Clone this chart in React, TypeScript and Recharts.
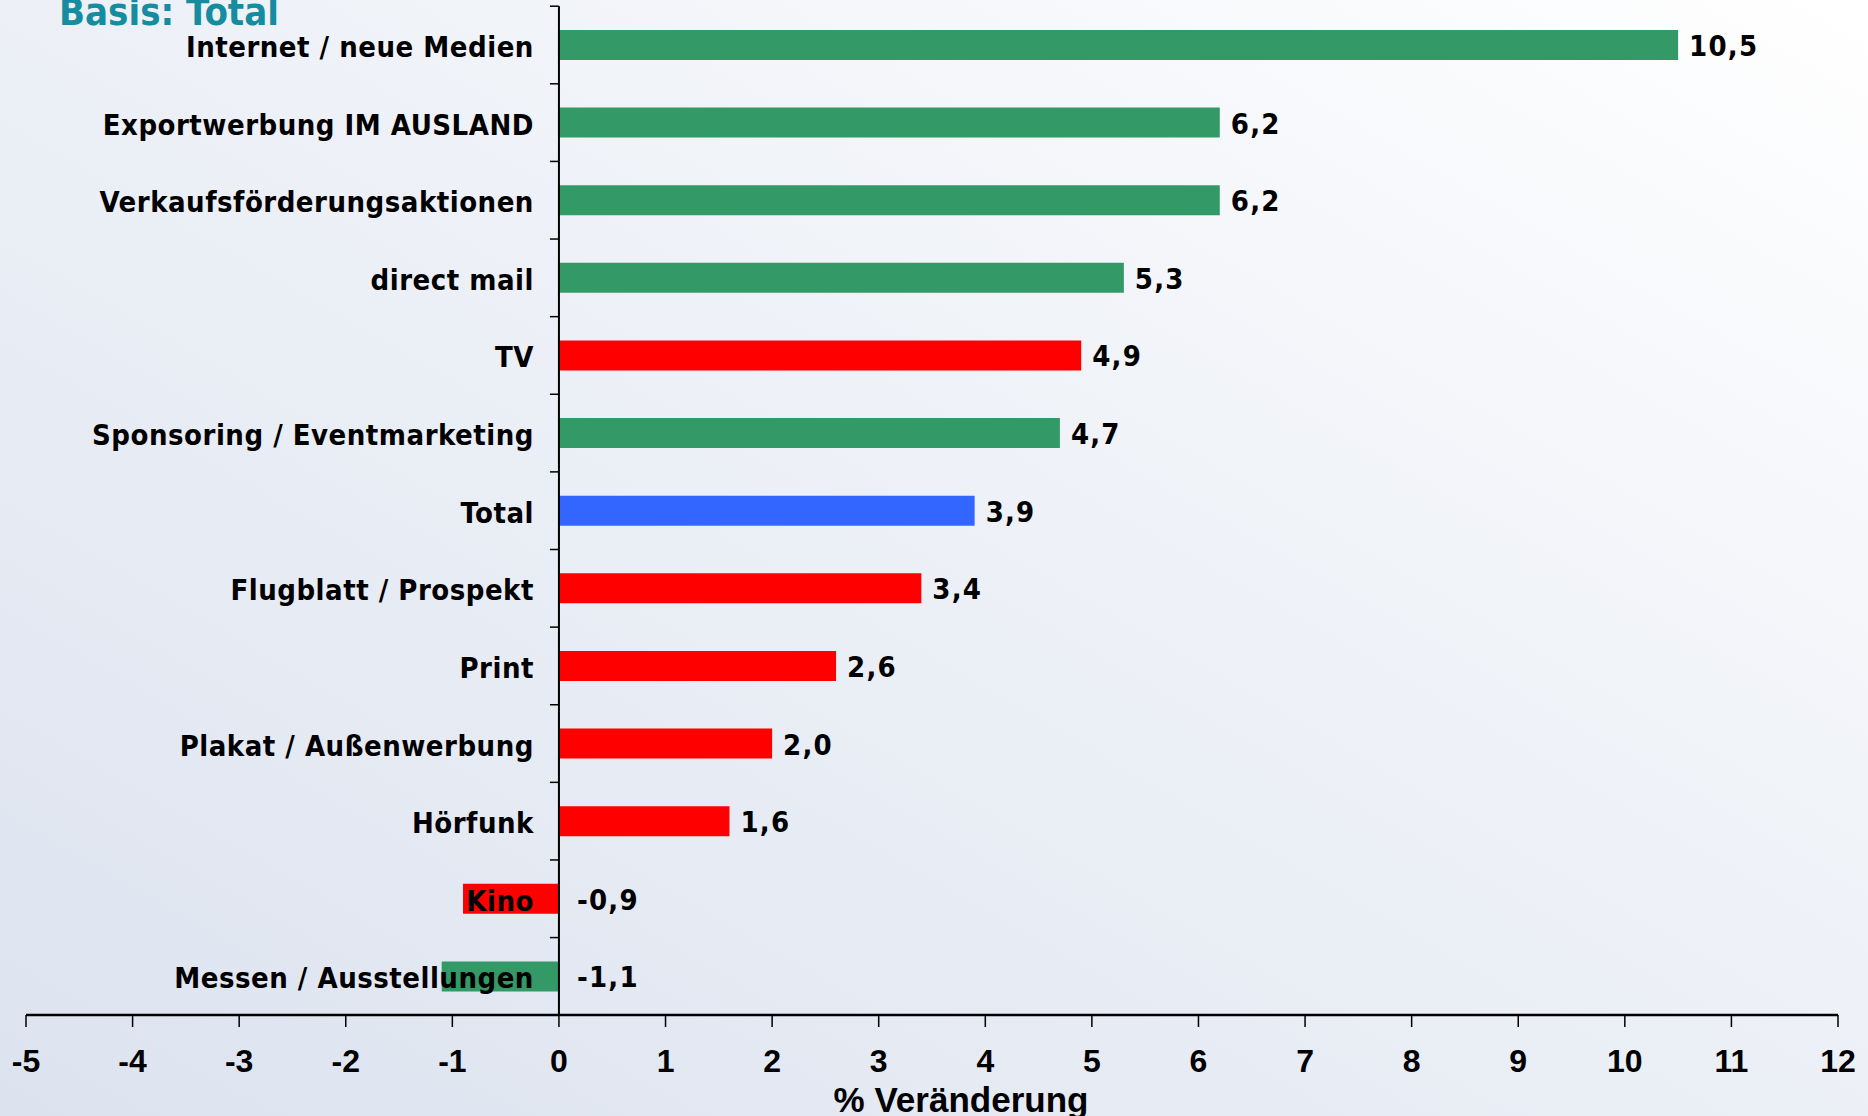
import { BarChart, Bar, XAxis, YAxis, Cell, LabelList, ReferenceLine } from 'recharts';

const CATEGORIES = [
  'Internet / neue Medien',
  'Exportwerbung IM AUSLAND',
  'Verkaufsförderungsaktionen',
  'direct mail',
  'TV',
  'Sponsoring / Eventmarketing',
  'Total',
  'Flugblatt / Prospekt',
  'Print',
  'Plakat / Außenwerbung',
  'Hörfunk',
  'Kino',
  'Messen / Ausstellungen',
];

const CHANGE = [10.5, 6.2, 6.2, 5.3, 4.9, 4.7, 3.9, 3.4, 2.6, 2.0, 1.6, -0.9, -1.1];

const X_TICKS = [-5, -4, -3, -2, -1, 0, 1, 2, 3, 4, 5, 6, 7, 8, 9, 10, 11, 12];

const GREEN = '#339966';
const RED = '#ff0000';
const BLUE = '#3366ff';

const BAR_COLORS: Record<string, string> = {
  'Internet / neue Medien': GREEN,
  'Exportwerbung IM AUSLAND': GREEN,
  'Verkaufsförderungsaktionen': GREEN,
  'direct mail': GREEN,
  'TV': RED,
  'Sponsoring / Eventmarketing': GREEN,
  'Total': BLUE,
  'Flugblatt / Prospekt': RED,
  'Print': RED,
  'Plakat / Außenwerbung': RED,
  'Hörfunk': RED,
  'Kino': RED,
  'Messen / Ausstellungen': GREEN,
};

const W = 1868;
const H = 1116;
const MARGIN = { top: 6, right: 30, bottom: 0, left: 26 };
const X_AXIS_H = 101;
const BAND = (H - MARGIN.top - MARGIN.bottom - X_AXIS_H) / CATEGORIES.length;

const LABEL_FONT = '"DejaVu Sans Condensed", "DejaVu Sans", sans-serif';
const AXIS_FONT = '"Liberation Sans", Arial, sans-serif';

const data = CATEGORIES.map((name, i) => ({ name, value: CHANGE[i] }));

const fmt = (v: number) => v.toFixed(1).replace('.', ',');

// category name left of the zero line, value right of the bar, plus the little y-axis tick
function BarLabels(props: any) {
  const vb = props.viewBox ?? props;
  const x = Number(vb.x);
  const y = Number(vb.y);
  const w = Number(vb.width);
  const h = Number(vb.height);
  const value = Number(props.value);
  const left = Math.min(x, x + w);
  const right = Math.max(x, x + w);
  const zero = value >= 0 ? left : right;
  const cy = y + h / 2;
  const top = cy - BAND / 2;
  const nameStyle = { fontFamily: LABEL_FONT, fontWeight: 'bold' as const, fontSize: 29, letterSpacing: 0.5 };
  const valueStyle = { fontFamily: LABEL_FONT, fontWeight: 'bold' as const, fontSize: 29, letterSpacing: 1.2 };
  return (
    <g>
      <line x1={zero - 9} x2={zero} y1={top} y2={top} stroke="#000" strokeWidth={1.5} />
      <text x={zero - 25} y={cy + 2} textAnchor="end" dominantBaseline="central" fill="#000" style={nameStyle}>
        {CATEGORIES[props.index]}
      </text>
      <text
        x={value >= 0 ? right + 11 : zero + 18}
        y={cy + 1}
        textAnchor="start"
        dominantBaseline="central"
        fill="#000"
        style={valueStyle}
      >
        {fmt(value)}
      </text>
    </g>
  );
}

export default function App() {
  return (
    <div
      style={{
        position: 'absolute',
        left: 0,
        top: 0,
        width: W,
        height: H,
        overflow: 'hidden',
        background: 'linear-gradient(210deg, #ffffff 0%, #eef1f7 45%, #dce3ef 100%)',
      }}
    >
      <BarChart width={W} height={H} data={data} layout="vertical" margin={MARGIN} barSize={30}>
        <XAxis
          type="number"
          domain={[-5, 12]}
          ticks={X_TICKS}
          interval={0}
          height={X_AXIS_H}
          tickSize={12}
          tickMargin={22}
          axisLine={{ stroke: '#000', strokeWidth: 2.5 }}
          tickLine={{ stroke: '#000', strokeWidth: 1.5 }}
          tick={{ fontSize: 32, fontWeight: 'bold', fill: '#000', fontFamily: AXIS_FONT }}
          label={{
            value: '% Veränderung',
            position: 'insideBottom',
            offset: 4,
            dx: 29,
            fontSize: 35,
            fontWeight: 'bold',
            fill: '#000',
            fontFamily: AXIS_FONT,
          }}
        />
        <YAxis type="category" dataKey="name" hide />
        <Bar dataKey="value" isAnimationActive={false}>
          {data.map((d) => (
            <Cell key={d.name} fill={BAR_COLORS[d.name] ?? GREEN} />
          ))}
          <LabelList dataKey="value" content={<BarLabels />} />
        </Bar>
        <ReferenceLine x={0} stroke="#000" strokeWidth={2} />
      </BarChart>
      <svg width={W} height={H} style={{ position: 'absolute', left: 0, top: 0, pointerEvents: 'none' }}>
        <text
          x={59}
          y={25}
          fill="#168ca0"
          style={{ fontFamily: LABEL_FONT, fontWeight: 'bold', fontSize: 38 }}
        >
          Basis: Total
        </text>
      </svg>
    </div>
  );
}
